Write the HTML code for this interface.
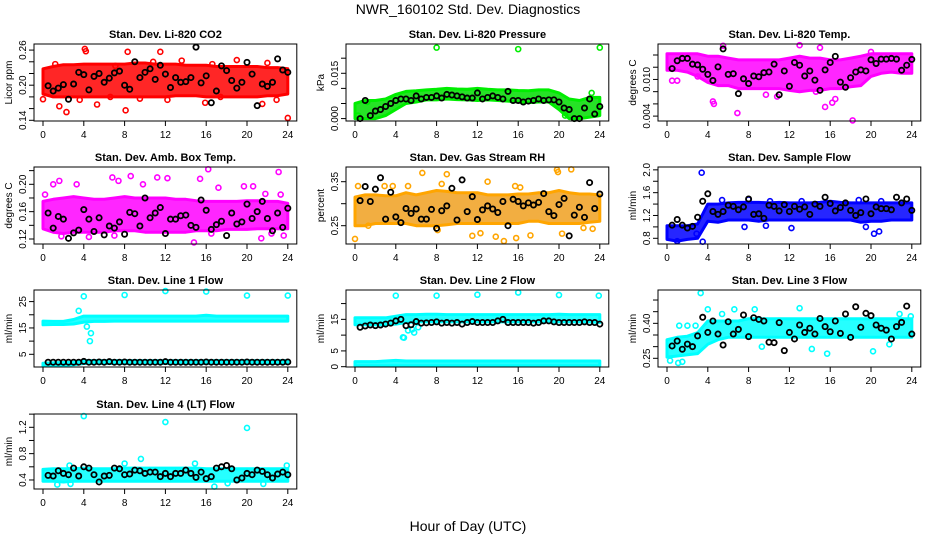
<!DOCTYPE html>
<html><head><meta charset="utf-8"><style>
html,body{margin:0;padding:0;background:#fff;}
svg{display:block;font-family:"Liberation Sans",sans-serif;}
</style></head><body>
<svg id="chart" width="936" height="540" viewBox="0 0 936 540">
<text x="468" y="14" text-anchor="middle" font-size="14">NWR_160102  Std. Dev. Diagnostics</text>
<text x="468" y="531" text-anchor="middle" font-size="14">Hour of Day (UTC)</text>
</svg>
<script>
const blackHours=[0.5,1,1.5,2,2.5,3,3.5,4,4.5,5,5.5,6,6.5,7,7.5,8,8.5,9,9.5,10,10.5,11,11.5,12,12.5,13,13.5,14,14.5,15,15.5,16,16.5,17,17.5,18,18.5,19,19.5,20,20.5,21,21.5,22,22.5,23,23.5,24];
const bandHours=[0,1,2,3,4,5,6,7,8,9,10,11,12,13,14,15,16,17,18,19,20,21,22,23,24];
const xTicks=[0,4,8,12,16,20,24];

const black1=[0.199,0.190,0.195,0.201,0.176,0.202,0.222,0.218,0.192,0.215,0.220,0.205,0.212,0.221,0.224,0.200,0.193,0.240,0.213,0.222,0.228,0.210,0.234,0.219,0.196,0.213,0.205,0.206,0.213,0.265,0.204,0.216,0.170,0.190,0.233,0.225,0.208,0.195,0.205,0.239,0.219,0.165,0.202,0.198,0.205,0.245,0.226,0.222];
const lo1=[0.185,0.18,0.18,0.18,0.18,0.18,0.18,0.18,0.18,0.18,0.18,0.18,0.18,0.182,0.182,0.182,0.18,0.18,0.18,0.18,0.18,0.18,0.182,0.182,0.185];
const hi1=[0.228,0.232,0.235,0.235,0.236,0.236,0.236,0.236,0.236,0.238,0.238,0.236,0.236,0.236,0.234,0.234,0.234,0.232,0.232,0.232,0.232,0.232,0.230,0.230,0.228];
const outX1=[0,4.1,4.2,5.3,2.3,1.6,8.1,8.3,11.5,10.8,13.6,15.9,16.6,19,21.5,22.9,24,3.6,12.2,22,6.6,17.4,9.5,1.2,7.1];
const outY1=[0.176,0.262,0.258,0.167,0.154,0.164,0.157,0.257,0.257,0.24,0.242,0.17,0.236,0.243,0.168,0.175,0.144,0.175,0.175,0.238,0.18,0.18,0.177,0.236,0.233];

const black2=[0.000,0.006,0.001,0.0025,0.003,0.004,0.005,0.006,0.0065,0.0065,0.006,0.0075,0.0065,0.007,0.007,0.0075,0.0068,0.008,0.0078,0.0075,0.0072,0.0068,0.0068,0.0085,0.0065,0.007,0.0075,0.007,0.0065,0.009,0.006,0.006,0.0055,0.0058,0.006,0.0065,0.006,0.0062,0.0062,0.0055,0.0035,0.003,0.000,0.000,0.0035,0.0065,0.0015,0.004];
const lo2=[0.000,0.000,0.000,0.001,0.003,0.005,0.0055,0.0062,0.0062,0.0065,0.0063,0.0062,0.006,0.0062,0.006,0.0058,0.0055,0.0053,0.0055,0.0055,0.003,0.000,0.000,0.0005,0.001];
const hi2=[0.005,0.006,0.006,0.0065,0.008,0.009,0.0092,0.0095,0.0097,0.010,0.0098,0.0097,0.010,0.0097,0.0095,0.0095,0.0093,0.0092,0.0095,0.0095,0.0085,0.0065,0.006,0.007,0.007];
const outX2=[8,16,24,0.3,1.2,20.6,21.5,23.2];
const outY2=[0.0235,0.023,0.0235,0.001,0.0055,0.001,0.000,0.0085];

const black3=[0.01178,0.01306,0.01344,0.01344,0.0125,0.01239,0.01167,0.01083,0.00983,0.01206,0.0150,0.01083,0.01094,0.00767,0.01011,0.00933,0.01056,0.01044,0.01111,0.01122,0.0125,0.0075,0.01139,0.00889,0.01278,0.01233,0.01056,0.01139,0.00989,0.00822,0.01156,0.01278,0.01378,0.00956,0.00872,0.01028,0.01122,0.01156,0.01139,0.01322,0.01261,0.01333,0.01333,0.01344,0.01333,0.01150,0.01233,0.01328];
const lo3=[0.0115,0.0115,0.0112,0.0105,0.0095,0.009,0.009,0.0085,0.0085,0.0085,0.0085,0.0085,0.0082,0.008,0.0082,0.0082,0.0085,0.0085,0.0088,0.009,0.0105,0.011,0.0112,0.011,0.011];
const hi3=[0.0142,0.0142,0.0142,0.0142,0.0138,0.0138,0.0135,0.0132,0.0132,0.0132,0.0132,0.0132,0.0135,0.0138,0.0135,0.0135,0.0132,0.0132,0.0135,0.0138,0.0142,0.0142,0.0142,0.0142,0.0142];
const outX3=[4.5,4.6,6.9,18.2,15.5,16.2,16.5,10.8,13,5.5,15,1,0.5,3,20,9.7,14.6];
const outY3=[0.0064,0.006,0.0045,0.0033,0.0055,0.0062,0.0068,0.0072,0.0156,0.0155,0.0152,0.0098,0.0098,0.0105,0.0145,0.0075,0.008];

const black4=[0.158,0.136,0.153,0.149,0.121,0.129,0.133,0.163,0.149,0.131,0.151,0.126,0.139,0.136,0.145,0.127,0.159,0.157,0.139,0.180,0.151,0.158,0.166,0.128,0.149,0.149,0.154,0.155,0.140,0.137,0.177,0.162,0.134,0.141,0.146,0.125,0.158,0.142,0.145,0.171,0.150,0.160,0.175,0.150,0.132,0.158,0.137,0.165];
const lo4=[0.135,0.13,0.128,0.13,0.13,0.13,0.13,0.132,0.132,0.132,0.13,0.13,0.13,0.13,0.13,0.132,0.132,0.132,0.134,0.134,0.134,0.135,0.135,0.135,0.135];
const hi4=[0.175,0.178,0.18,0.182,0.18,0.178,0.178,0.18,0.182,0.18,0.18,0.18,0.18,0.178,0.178,0.176,0.175,0.175,0.175,0.175,0.176,0.176,0.175,0.175,0.172];
const outX4=[0.2,1,1.6,1.8,3.3,4.5,6.8,7,7.4,8.6,9.8,11.2,12.2,14.8,15.4,16.2,16.5,17.2,19.7,20.6,21.4,21.8,22.4,23.1,23.6,23.3];
const outY4=[0.185,0.2,0.205,0.124,0.2,0.123,0.21,0.125,0.205,0.212,0.2,0.21,0.209,0.115,0.208,0.222,0.128,0.195,0.197,0.197,0.121,0.186,0.128,0.218,0.125,0.185];

const black5=[0.307,0.339,0.305,0.333,0.359,0.265,0.326,0.270,0.257,0.289,0.278,0.288,0.265,0.265,0.287,0.244,0.284,0.295,0.335,0.263,0.354,0.282,0.316,0.264,0.286,0.295,0.288,0.280,0.305,0.250,0.310,0.305,0.295,0.302,0.297,0.303,0.323,0.282,0.273,0.298,0.312,0.227,0.274,0.292,0.269,0.348,0.289,0.322];
const lo5=[0.25,0.25,0.255,0.255,0.255,0.255,0.25,0.25,0.25,0.252,0.255,0.255,0.255,0.255,0.255,0.255,0.255,0.26,0.26,0.255,0.255,0.255,0.255,0.258,0.26];
const hi5=[0.315,0.32,0.32,0.318,0.318,0.325,0.32,0.325,0.33,0.328,0.325,0.325,0.325,0.32,0.32,0.32,0.322,0.322,0.325,0.325,0.33,0.325,0.322,0.322,0.32];
const outX5=[0,0.3,2.9,3.7,5.2,6.6,8.5,9,11.5,12.3,13,13.8,14.6,15.7,15.8,16.2,17.2,19.8,19.9,20.3,21.2,22.4,23.3,8.1,1.3];
const outY5=[0.22,0.34,0.34,0.34,0.34,0.37,0.345,0.367,0.227,0.233,0.35,0.225,0.215,0.34,0.222,0.337,0.228,0.377,0.372,0.232,0.378,0.245,0.243,0.24,0.25];

const black6=[1.03,1.13,1.03,0.98,1.01,1.17,1.45,1.58,1.27,1.22,1.27,1.38,1.36,1.30,1.35,1.49,1.22,1.23,1.15,1.38,1.36,1.28,1.39,1.27,1.36,1.31,1.35,1.22,1.40,1.36,1.52,1.41,1.28,1.34,1.42,1.29,1.20,1.25,1.49,1.23,1.35,1.32,1.32,1.30,1.52,1.42,1.49,1.29];
const lo6=[0.78,0.75,0.78,0.80,1.10,1.08,1.12,1.12,1.12,1.10,1.12,1.12,1.12,1.12,1.12,1.12,1.12,1.12,1.12,1.08,1.10,1.10,1.12,1.12,1.12];
const hi6=[1.02,1.02,1.02,1.05,1.40,1.40,1.42,1.43,1.43,1.43,1.42,1.43,1.42,1.42,1.42,1.43,1.45,1.43,1.42,1.42,1.42,1.42,1.42,1.42,1.42];
const outX6=[3.4,3.5,1.0,2.9,20.3,20.8,19.5,7.6,9.7,12.2,5.4,8,18.8,10.1,13.2,21];
const outY6=[1.95,0.74,0.75,0.88,0.88,0.92,1.0,1.0,1.02,0.98,1.47,1.48,1.47,1.45,1.45,1.45];

const black7=[2.0,2.0,2.0,2.0,2.0,2.0,2.0,2.3,2.0,2.0,2.1,2.0,2.2,2.0,2.0,2.1,2.0,2.0,2.0,2.0,2.0,2.0,2.0,2.2,2.0,2.0,2.0,2.0,2.0,2.0,2.0,2.1,2.0,2.0,2.0,2.0,2.0,2.0,2.0,2.1,2.0,2.0,2.0,2.0,2.0,2.0,2.0,2.1];
const lo7=[16.2,16.3,16.3,16.5,17.2,17.5,17.5,17.6,17.6,17.6,17.6,17.6,17.6,17.6,17.6,17.6,17.6,17.6,17.6,17.6,17.6,17.6,17.6,17.6,17.6];
const hi7=[17.6,17.5,17.5,18.2,19.5,19.5,19.5,19.5,19.5,19.5,19.5,19.5,19.5,19.5,19.5,19.5,19.8,19.5,19.5,19.5,19.5,19.5,19.5,19.5,19.5];
const lowLo7=[0.6,0.8,0.9,1.0,1.5,1.5,1.5,1.5,1.5,1.5,1.5,1.5,1.5,1.5,1.5,1.5,1.5,1.5,1.5,1.5,1.5,1.5,1.5,1.5,1.5];
const lowHi7=[1.6,1.8,1.9,2.0,2.6,2.6,2.6,2.6,2.6,2.6,2.6,2.6,2.6,2.6,2.6,2.6,2.6,2.6,2.6,2.6,2.6,2.6,2.6,2.6,2.6];
const outX7=[3.5,4,4.3,4.6,4.7,8,12,16,20,24];
const outY7=[21.5,27,15.5,10,13,27.5,29,28.8,27.3,27.3];

const black8=[12.5,12.9,13.2,13.0,13.2,13.5,13.8,14.5,15.0,13.0,13.3,14.3,13.8,13.9,14.0,14.2,13.8,14.0,13.8,14.0,13.5,14.0,14.3,14.0,14.0,14.0,14.0,14.5,15.0,14.0,14.0,14.0,14.0,14.0,13.8,14.0,14.5,14.5,14.2,14.0,14.0,14.0,14.0,14.0,14.2,14.0,14.0,13.5];
const lo8=[13.3,13.3,13.3,13.3,13.5,14.0,14.2,14.2,14.2,14.2,14.2,14.2,14.2,14.2,14.2,14.2,14.2,14.2,14.2,14.2,14.2,14.2,14.2,14.2,14.0];
const hi8=[15.5,15.5,15.5,15.5,16.0,16.5,16.5,16.6,16.6,16.5,16.5,16.5,16.5,16.5,16.5,16.5,16.5,16.5,16.5,16.5,16.6,16.5,16.5,16.5,16.5];
const lowLo8=[0.3,0.3,0.3,0.3,0.3,0.3,0.3,0.3,0.3,0.3,0.3,0.3,0.3,0.3,0.3,0.3,0.3,0.3,0.3,0.3,0.3,0.3,0.3,0.3,0.3];
const lowHi8=[1.6,1.6,1.6,1.8,2.0,1.8,1.8,1.8,1.8,1.8,1.8,1.8,1.8,1.8,1.8,1.8,1.8,1.8,1.8,1.8,1.8,1.8,1.8,1.8,1.8];
const outX8=[4,4.7,4.8,5.2,5.6,5.8,6.2,8,12,16,20,23.9];
const outY8=[22.5,9.3,9.2,11.5,11.8,10.8,12.5,22.5,22.8,23.5,22.7,22.5];

const black9=[0.303,0.324,0.289,0.311,0.300,0.346,0.426,0.361,0.410,0.354,0.307,0.407,0.354,0.374,0.436,0.343,0.424,0.417,0.410,0.319,0.317,0.403,0.283,0.361,0.333,0.393,0.361,0.379,0.354,0.421,0.386,0.364,0.410,0.357,0.440,0.340,0.471,0.383,0.443,0.433,0.393,0.379,0.371,0.333,0.386,0.404,0.474,0.354];
const lo9=[0.255,0.26,0.265,0.27,0.31,0.33,0.34,0.34,0.34,0.34,0.34,0.34,0.34,0.34,0.34,0.34,0.34,0.34,0.34,0.34,0.34,0.34,0.34,0.34,0.34];
const hi9=[0.33,0.34,0.345,0.36,0.41,0.41,0.41,0.41,0.42,0.42,0.42,0.42,0.42,0.42,0.42,0.42,0.42,0.42,0.42,0.42,0.42,0.42,0.42,0.42,0.42];
const outX9=[3.3,1.1,0.3,1.5,4,6.6,8.6,13,15.7,20.2,22.8,23.9,1.2,2,2.8,9.3,14.2,21.8,5.4];
const outY9=[0.53,0.23,0.24,0.235,0.46,0.46,0.46,0.465,0.27,0.28,0.44,0.43,0.39,0.39,0.39,0.3,0.29,0.31,0.44];

const black10=[0.47,0.46,0.54,0.50,0.48,0.58,0.46,0.60,0.58,0.48,0.37,0.46,0.47,0.58,0.57,0.48,0.49,0.55,0.54,0.50,0.52,0.52,0.45,0.50,0.45,0.50,0.50,0.55,0.50,0.44,0.52,0.42,0.45,0.58,0.60,0.62,0.57,0.40,0.43,0.50,0.48,0.55,0.53,0.48,0.43,0.49,0.52,0.48];
const lo10=[0.38,0.38,0.37,0.38,0.38,0.38,0.38,0.38,0.38,0.38,0.38,0.38,0.38,0.38,0.38,0.38,0.38,0.38,0.38,0.38,0.38,0.38,0.38,0.38,0.38];
const hi10=[0.56,0.57,0.57,0.57,0.58,0.57,0.57,0.57,0.58,0.58,0.58,0.58,0.58,0.58,0.58,0.58,0.57,0.57,0.57,0.57,0.57,0.57,0.57,0.57,0.57];
const outX10=[4,12,20,9.6,16.8,1.4,2.7,2.6,8,14.9,23.9,21.6,18.1];
const outY10=[1.37,1.28,1.19,0.72,0.30,0.33,0.34,0.62,0.65,0.65,0.62,0.34,0.35];

const yTicks1=[0.14,0.16,0.18,0.20,0.22,0.24,0.26], yLab1=["0.14","","","0.20","","","0.26"];
const yTicks2=[0,0.005,0.010,0.015,0.020], yLab2=["0.000","","","0.015",""];
const yTicks3=[0.004,0.006,0.008,0.010,0.012,0.014], yLab3=["0.004","","","0.010","",""];
const yTicks4=[0.12,0.14,0.16,0.18,0.20,0.22], yLab4=["0.12","","0.16","","0.20",""];
const yTicks5=[0.25,0.30,0.35], yLab5=["0.25","","0.35"];
const yTicks6=[0.8,1.0,1.2,1.4,1.6,1.8,2.0], yLab6=["0.8","","1.2","","1.6","","2.0"];
const yTicks7=[5,10,15,20,25], yLab7=["5","","15","","25"];
const yTicks8=[0,5,10,15,20], yLab8=["0","5","","15",""];
const yTicks9=[0.25,0.30,0.35,0.40,0.45,0.50], yLab9=["0.25","","","0.40","",""];
const yTicks10=[0.4,0.6,0.8,1.0,1.2,1.4], yLab10=["0.4","","0.8","","1.2",""];

const NS="http://www.w3.org/2000/svg";
const svg=document.getElementById('chart');
function mk(tag,attrs,parent){const e=document.createElementNS(NS,tag);for(const k in attrs)e.setAttribute(k,attrs[k]);(parent||svg).appendChild(e);return e;}

const colX0=[43,355,667], rowTop=[44,167,290,414], rowBot=[121,244,367,489], pxH=10.2;
const panels=[
 {name:"co2",title:"Stan. Dev. Li-820 CO2",yt:"Licor ppm",c:0,r:0,ymin:0.1388,ymax:0.2704,col:"#ff0000",fill:"#ff0000",black:black1,lo:lo1,hi:hi1,ox:outX1,oy:outY1,ticks:yTicks1,labs:yLab1},
 {name:"pressure",title:"Stan. Dev. Li-820 Pressure",yt:"kPa",c:1,r:0,ymin:-0.0008,ymax:0.0247,col:"#00ee00",fill:"#00dd00",black:black2,lo:lo2,hi:hi2,ox:outX2,oy:outY2,ticks:yTicks2,labs:yLab2},
 {name:"li820-temp",title:"Stan. Dev. Li-820 Temp.",yt:"degrees C",c:2,r:0,ymin:0.0032,ymax:0.0158,col:"#ff00ff",fill:"#ff00ff",black:black3,lo:lo3,hi:hi3,ox:outX3,oy:outY3,ticks:yTicks3,labs:yLab3},
 {name:"amb-box-temp",title:"Stan. Dev. Amb. Box Temp.",yt:"degrees C",c:0,r:1,ymin:0.1127,ymax:0.2253,col:"#ff00ff",fill:"#ff00ff",black:black4,lo:lo4,hi:hi4,ox:outX4,oy:outY4,ticks:yTicks4,labs:yLab4},
 {name:"gas-stream-rh",title:"Stan. Dev. Gas Stream RH",yt:"percent",c:1,r:1,ymin:0.2084,ymax:0.3834,col:"#ffa500",fill:"#f0a020",black:black5,lo:lo5,hi:hi5,ox:outX5,oy:outY5,ticks:yTicks5,labs:yLab5},
 {name:"sample-flow",title:"Stan. Dev. Sample Flow",yt:"ml/min",c:2,r:1,ymin:0.70,ymax:2.05,col:"#0000ff",fill:"#0000ff",black:black6,lo:lo6,hi:hi6,ox:outX6,oy:outY6,ticks:yTicks6,labs:yLab6},
 {name:"line1-flow",title:"Stan. Dev. Line 1 Flow",yt:"ml/min",c:0,r:2,ymin:0.18,ymax:29.4,col:"#00ffff",fill:"#00ffff",black:black7,lo:lo7,hi:hi7,lo2:lowLo7,hi2:lowHi7,ox:outX7,oy:outY7,ticks:yTicks7,labs:yLab7},
 {name:"line2-flow",title:"Stan. Dev. Line 2 Flow",yt:"ml/min",c:1,r:2,ymin:-0.1,ymax:24.3,col:"#00ffff",fill:"#00ffff",black:black8,lo:lo8,hi:hi8,lo2:lowLo8,hi2:lowHi8,ox:outX8,oy:outY8,ticks:yTicks8,labs:yLab8},
 {name:"line3-flow",title:"Stan. Dev. Line 3 Flow",yt:"ml/min",c:2,r:2,ymin:0.2127,ymax:0.543,col:"#00ffff",fill:"#00ffff",black:black9,lo:lo9,hi:hi9,ox:outX9,oy:outY9,ticks:yTicks9,labs:yLab9},
 {name:"line4-flow",title:"Stan. Dev. Line 4 (LT) Flow",yt:"ml/min",c:0,r:3,ymin:0.263,ymax:1.402,col:"#00ffff",fill:"#00ffff",black:black10,lo:lo10,hi:hi10,ox:outX10,oy:outY10,ticks:yTicks10,labs:yLab10}
];

panels.forEach(p=>{
 const x0=colX0[p.c], top=rowTop[p.r], bot=rowBot[p.r];
 const X=h=>x0+h*pxH;
 const Y=v=>bot-(v-p.ymin)/(p.ymax-p.ymin)*(bot-top);
 const g=mk('g',{});
 
 
 const t=mk('text',{x:X(12),y:top-6,'text-anchor':'middle','font-size':11,'font-weight':'bold'},g);
 t.textContent=p.title;
 
 
 function band(lo,hi,nm){
  let d='';
  bandHours.forEach((h,i)=>{d+=(i?'L':'M')+X(h).toFixed(1)+','+Y(hi[i]).toFixed(1);});
  for(let i=bandHours.length-1;i>=0;i--)d+='L'+X(bandHours[i]).toFixed(1)+','+Y(lo[i]).toFixed(1);
  const b=mk('path',{d:d+'Z',fill:p.fill,'fill-opacity':0.85,stroke:p.col,'stroke-width':3,'stroke-linejoin':'round'},g);
  
  
 }
 band(p.lo,p.hi,'data-cloud');
 if(p.lo2)band(p.lo2,p.hi2,'data-cloud-low');
 p.ox.forEach((h,i)=>{
  const c=mk('circle',{cx:X(h),cy:Y(p.oy[i]),r:2.5,fill:'none',stroke:p.col,'stroke-width':1.6},g);
  
  
 });
 p.black.forEach((v,i)=>{
  const c=mk('circle',{cx:X(blackHours[i]),cy:Y(v),r:2.6,fill:'none',stroke:'#000','stroke-width':1.8},g);
  
  
 });
 const box=mk('rect',{x:x0-9,y:top,width:24*pxH+18,height:bot-top,fill:'none',stroke:'#000','stroke-width':1},g);
 
 
 xTicks.forEach(h=>{
  mk('line',{x1:X(h),x2:X(h),y1:bot,y2:bot+5,stroke:'#000'},g);
  const tl=mk('text',{x:X(h),y:bot+17,'text-anchor':'middle','font-size':10},g);
  tl.textContent=h;
  
  
 });
 p.ticks.forEach((v,i)=>{
  const yy=Y(v);
  mk('line',{x1:x0-9,x2:x0-14,y1:yy,y2:yy,stroke:'#000'},g);
  if(p.labs[i]){
   const tl=mk('text',{x:0,y:0,'text-anchor':'middle','font-size':10,transform:`translate(${x0-17},${yy}) rotate(-90)`},g);
   tl.textContent=p.labs[i];
   
   
  }
 });
 const yt=mk('text',{x:0,y:0,'text-anchor':'middle','font-size':10,transform:`translate(${x0-31},${(top+bot)/2}) rotate(-90)`},g);
 yt.textContent=p.yt;
 
 
});
</script>
</body></html>
